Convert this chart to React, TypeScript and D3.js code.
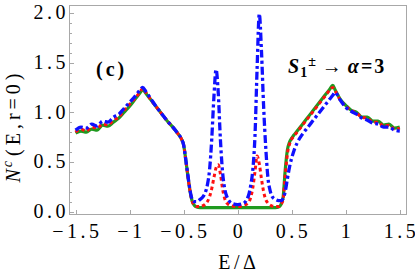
import * as d3 from "d3";

// energy grid E/Δ (shared by the three curves)
const energies = [
  -1.5, -1.45, -1.4, -1.35, -1.3, -1.25, -1.2, -1.15, -1.1, -1.05, -1.0, -0.95, -0.9,
  -0.88, -0.85, -0.8, -0.75, -0.7, -0.65, -0.6, -0.55,
  -0.52, -0.5, -0.48, -0.46, -0.44, -0.42, -0.4, -0.38,
  -0.35, -0.32, -0.3, -0.28, -0.26, -0.24, -0.22, -0.2, -0.18, -0.16, -0.14, -0.12, -0.1,
  -0.05, 0, 0.05,
  0.1, 0.12, 0.14, 0.16, 0.18, 0.2, 0.22, 0.24, 0.26, 0.28, 0.3, 0.32, 0.35,
  0.38, 0.4, 0.42, 0.44, 0.46, 0.48, 0.5, 0.52,
  0.55, 0.6, 0.65, 0.7, 0.75, 0.8, 0.85, 0.88,
  0.9, 0.95, 1.0, 1.05, 1.1, 1.15, 1.2, 1.25, 1.3, 1.35, 1.4, 1.45, 1.5,
];

// green solid
const greenValues = [
  0.79, 0.81, 0.8, 0.83, 0.82, 0.87, 0.86, 0.9, 0.94, 1.0, 1.06, 1.13, 1.2,
  1.23, 1.19, 1.12, 1.05, 0.98, 0.91, 0.85, 0.78,
  0.73, 0.67, 0.52, 0.35, 0.2, 0.1, 0.06, 0.045,
  0.04, 0.04, 0.04, 0.04, 0.04, 0.04, 0.04, 0.04, 0.04, 0.04, 0.04, 0.04, 0.04,
  0.04, 0.04, 0.04,
  0.04, 0.04, 0.04, 0.04, 0.04, 0.04, 0.04, 0.04, 0.04, 0.04, 0.04, 0.04, 0.04,
  0.045, 0.07, 0.14, 0.42, 0.62, 0.7, 0.74, 0.77,
  0.81, 0.88, 0.95, 1.02, 1.09, 1.16, 1.23, 1.27,
  1.23, 1.13, 1.07, 1.02, 1.0, 0.95, 0.95, 0.91, 0.91, 0.87, 0.88, 0.84, 0.85,
];

// red dotted
const redValues = [
  0.8, 0.83, 0.81, 0.85, 0.84, 0.88, 0.87, 0.92, 0.95, 1.02, 1.08, 1.14, 1.21,
  1.24, 1.2, 1.12, 1.05, 0.98, 0.91, 0.85, 0.78,
  0.73, 0.67, 0.52, 0.35, 0.2, 0.1, 0.065, 0.05,
  0.05, 0.06, 0.075, 0.1, 0.15, 0.23, 0.34, 0.44, 0.47, 0.38, 0.23, 0.13, 0.085,
  0.055, 0.05, 0.06,
  0.09, 0.14, 0.24, 0.4, 0.56, 0.48, 0.33, 0.2, 0.12, 0.085, 0.065, 0.055, 0.05,
  0.05, 0.07, 0.12, 0.36, 0.58, 0.68, 0.73, 0.76,
  0.8, 0.87, 0.94, 1.01, 1.08, 1.15, 1.22, 1.25,
  1.22, 1.12, 1.06, 1.02, 0.99, 0.95, 0.94, 0.9, 0.9, 0.86, 0.87, 0.83, 0.84,
];

// blue dash-dot
const blueValues = [
  0.82, 0.85, 0.84, 0.88, 0.86, 0.91, 0.9, 0.95, 0.98, 1.04, 1.1, 1.16, 1.23,
  1.25, 1.21, 1.13, 1.05, 0.98, 0.91, 0.85, 0.78,
  0.73, 0.67, 0.52, 0.36, 0.21, 0.12, 0.1, 0.1,
  0.12, 0.15, 0.19, 0.27, 0.42, 0.73, 1.15, 1.43, 1.2, 0.73, 0.4, 0.23, 0.15,
  0.08, 0.07, 0.08,
  0.16, 0.26, 0.42, 0.76, 1.45, 1.99, 1.62, 1.06, 0.64, 0.34, 0.21, 0.15, 0.12,
  0.11, 0.11, 0.13, 0.2, 0.33, 0.45, 0.54, 0.61,
  0.69, 0.78, 0.85, 0.92, 0.99, 1.06, 1.13, 1.17,
  1.2, 1.12, 1.05, 1.01, 0.98, 0.94, 0.92, 0.89, 0.88, 0.85, 0.85, 0.82, 0.81,
];

const xTickValues = [-1.5, -1, -0.5, 0, 0.5, 1, 1.5];
const yTickValues = [0, 0.5, 1, 1.5, 2];

const font = "Liberation Serif";
const frameColor = "#a8a8a8";

// per-glyph gap (Mathematica renders these labels loosely spaced)
const gaps = (str: string, gap: number) =>
  Array.from(str)
    .map((_, i) => (i === 0 ? 0 : gap))
    .join(" ");

function App() {
  // scales
  const xScale = d3.scaleLinear().domain([-1.556, 1.562]).range([69.5, 406.5]);
  const yScale = d3.scaleLinear().domain([-0.03, 2.075]).range([214.5, 5.5]);
  const yMinor = yScale.ticks(20).filter((d) => d >= 0);

  const line = d3
    .line<[number, number]>()
    .x((d) => xScale(d[0]))
    .y((d) => yScale(d[1]))
    .curve(d3.curveMonotoneX);

  const series = [
    { name: "green", values: greenValues, color: "#1f9a1f", width: 3.2, dash: undefined },
    { name: "red", values: redValues, color: "#ff1010", width: 3, dash: "3.5,3" },
    { name: "blue", values: blueValues, color: "#1010ff", width: 3.3, dash: "8,3,3,3" },
  ];

  const ty = (d: number) => Math.round(yScale(d)) + 0.5;
  const tx = (d: number) => Math.round(xScale(d)) + 0.5;

  return (
    <svg
      width={415}
      height={277}
      style={{ position: "absolute", left: 0, top: 0, background: "#fff" }}
    >
      {/* frame */}
      <rect x={69.5} y={5.5} width={337} height={209} fill="none" stroke={frameColor} />

      {/* y ticks */}
      {yMinor.map((d) => (
        <line key={"m" + d} x1={69.5} x2={72} y1={ty(d)} y2={ty(d)} stroke={frameColor} />
      ))}
      {yTickValues.map((d) => (
        <line key={"y" + d} x1={69.5} x2={74} y1={ty(d)} y2={ty(d)} stroke={frameColor} />
      ))}
      {yTickValues.map((d) => {
        const label = d3.format(".1f")(d);
        return (
          <text
            key={"yl" + d}
            x={65.5}
            y={yScale(d) + 6.5}
            dx={gaps(label, 3.5)}
            textAnchor="end"
            fontSize={20}
            style={{ fontFamily: font }}
          >
            {label}
          </text>
        );
      })}

      {/* x ticks */}
      {xTickValues.map((d) => (
        <line key={"x" + d} x1={tx(d)} x2={tx(d)} y1={214.5} y2={210} stroke={frameColor} />
      ))}
      {xTickValues.map((d) => {
        const label = d3.format("~g")(d);
        return (
          <text
            key={"xl" + d}
            x={xScale(d)}
            y={238}
            dx={gaps(label, 3.5)}
            textAnchor="middle"
            fontSize={20}
            style={{ fontFamily: font }}
          >
            {label}
          </text>
        );
      })}

      {/* axis titles */}
      <text
        x={237}
        y={269}
        dx={gaps("E/Δ", 3.5)}
        textAnchor="middle"
        fontSize={20}
        style={{ fontFamily: font }}
      >
        E/Δ
      </text>
      <text
        transform="translate(19.5,128) rotate(-90)"
        textAnchor="middle"
        fontSize={20}
        style={{ fontFamily: font }}
      >
        <tspan fontStyle="italic">N</tspan>
        <tspan fontStyle="italic" fontSize={14} dy={-8} dx={2}>
          c
        </tspan>
        <tspan dy={8} dx={"5 4 4 4 4 4 4"}>
          (E,r=0)
        </tspan>
      </text>

      {/* curves */}
      {series.map((s) => (
        <path
          key={s.name}
          d={line(energies.map((e, i) => [e, s.values[i]] as [number, number])) || ""}
          fill="none"
          stroke={s.color}
          strokeWidth={s.width}
          strokeDasharray={s.dash}
        />
      ))}

      {/* panel labels */}
      <text
        x={96}
        y={76}
        dx={gaps("(c)", 3)}
        fontSize={20}
        fontWeight="bold"
        style={{ fontFamily: font }}
      >
        (c)
      </text>
      <text x={288} y={73} fontSize={20} fontWeight="bold" style={{ fontFamily: font }}>
        <tspan fontStyle="italic">S</tspan>
        <tspan fontSize={14} dy={4} dx={1}>
          1
        </tspan>
        <tspan fontSize={14} dy={-11} dx={1}>
          ±
        </tspan>
        <tspan dy={7} dx={6}>
          →
        </tspan>
        <tspan fontStyle="italic" dx={6}>
          α
        </tspan>
        <tspan dx={"2 2"}>=3</tspan>
      </text>
    </svg>
  );
}

export default App;
